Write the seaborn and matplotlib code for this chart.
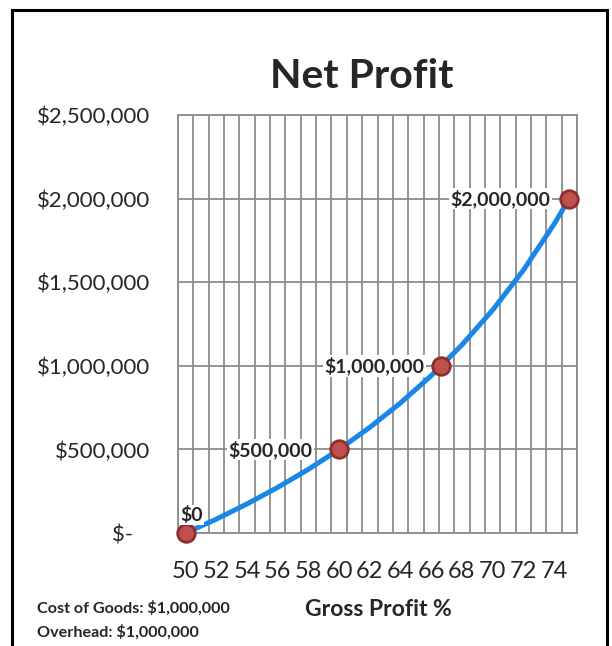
import numpy as np
import pandas as pd
import seaborn as sns
import matplotlib.pyplot as plt
from matplotlib.patches import Rectangle
from matplotlib.ticker import FuncFormatter

# values
gross_pct = [50, 52, 54, 56, 58, 60, 62, 64, 66, 68, 70, 72, 74, 75]
net_profit = [0, 83000, 174000, 273000, 381000, 500000, 632000, 778000,
              941000, 1125000, 1333000, 1571000, 1846000, 2000000]

point_pct = [50, 60, 66.67, 75]
point_profit = [0, 500000, 1000000, 2000000]
point_labels = ['$0', '$500,000', '$1,000,000', '$2,000,000']

y_ticks = [0, 500000, 1000000, 1500000, 2000000, 2500000]
x_ticks = list(range(50, 76, 2))

sns.set_style('white')
plt.rcParams['font.family'] = ['Lato', 'DejaVu Sans']

fig = plt.figure(figsize=(6.12, 6.46), dpi=100)
ax = fig.add_axes([178/612, 113/646, 399/612, 418/646])

curve = pd.DataFrame({'pct': gross_pct, 'profit': net_profit})
pts = pd.DataFrame({'pct': point_pct, 'profit': point_profit})

sns.lineplot(data=curve, x='pct', y='profit', ax=ax, color='#1a86e8',
             linewidth=3.6, zorder=3)
sns.scatterplot(data=pts, x='pct', y='profit', ax=ax, s=160,
                color='#c0504d', edgecolor='#8c2f2d', linewidth=2, zorder=4,
                clip_on=False)

ax.set_xlim(49.5, 75.5)
ax.set_ylim(0, 2500000)
ax.set_xticks(x_ticks)
ax.set_xticks(np.arange(49.5, 76, 1), minor=True)
ax.set_yticks(y_ticks)
ax.xaxis.grid(True, which='minor', color='#8c8c8c', linewidth=1.3)
ax.yaxis.grid(True, which='major', color='#8c8c8c', linewidth=1.3)
ax.set_axisbelow(True)
for s in ax.spines.values():
    s.set_color('#8c8c8c')
    s.set_linewidth(1.3)

ax.yaxis.set_major_formatter(FuncFormatter(
    lambda v, p: '$-   ' if v == 0 else f'${v:,.0f}'))
ax.tick_params(axis='both', which='both', length=0)
ax.tick_params(axis='y', labelsize=16, pad=20)
ax.tick_params(axis='x', labelsize=17, pad=20)
ax.set_xlabel('')
ax.set_ylabel('')

# data labels
box = dict(facecolor='white', edgecolor='none', pad=1)
ax.annotate(point_labels[0], (point_pct[0], point_profit[0]), xytext=(4, 13),
            textcoords='offset points', ha='center', va='center',
            fontsize=14, fontweight='bold', bbox=box, zorder=5)
offsets = [0, -19, -12, -13.5]
for i in range(1, 4):
    ax.annotate(point_labels[i], (point_pct[i], point_profit[i]),
                xytext=(offsets[i], 0), textcoords='offset points',
                ha='right', va='center', fontsize=14, fontweight='bold',
                bbox=box, zorder=5)

fig.text(362/612, 1 - 77/646, 'Net Profit', ha='center', va='center',
         fontsize=29.5, fontweight='bold')
fig.text(378/612, 1 - 609/646, 'Gross Profit %', ha='center', va='center',
         fontsize=16.5, fontweight='bold')
fig.text(37/612, 1 - 608/646, 'Cost of Goods: $1,000,000', ha='left', va='center',
         fontsize=11.6, fontweight='bold')
fig.text(37/612, 1 - 632/646, 'Overhead: $1,000,000', ha='left', va='center',
         fontsize=11.6, fontweight='bold')

fig.patches.append(Rectangle((12/612, -0.05), 595/612, 0.05 + 1 - 10/646,
                             transform=fig.transFigure, fill=False,
                             edgecolor='black', linewidth=2.2))

fig.savefig('out.png', dpi=100)
